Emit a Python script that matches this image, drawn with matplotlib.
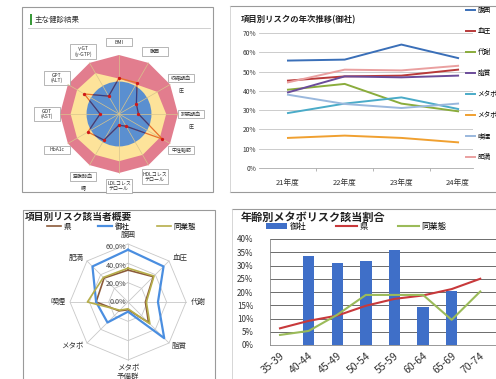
import numpy as np
import matplotlib
matplotlib.use('Agg')
import matplotlib.pyplot as plt
from matplotlib.patches import Rectangle, Polygon, Circle
from matplotlib.lines import Line2D
from matplotlib.ticker import FuncFormatter

plt.rcParams['font.family'] = ['Noto Sans CJK JP', 'DejaVu Sans']

W, H = 496, 379
fig = plt.figure(figsize=(W / 100, H / 100), dpi=100)


def rect(x0, y0, x1, y1):
    return [x0 / W, 1 - y1 / H, (x1 - x0) / W, (y1 - y0) / H]


# ---------------- data ----------------
# panel 1: main checkup results (normalised radar, 12 items, clockwise from top)
exam_items = ['BMI', '腹囲', '収縮期血', '拡張期血', '中性脂肪', 'HDLコレス\nテロール',
              'LDLコレス\nテロール', '空腹時血', 'HbA1c', 'GOT\n(AST)', 'GPT\n(ALT)',
              'γ-GT\n(γ-GTP)']
exam_suffix = ['', '', '圧', '圧', '', '', '', '糖', '', '', '', '']
exam_values = [0.61, 0.61, 0.34, 0.33, 0.85, 0.24, 0.19, 0.51, 0.61, 0.32, 0.68, 0.35]
normal_limit = 0.55
caution_limit = [0.60, 0.58, 0.75, 0.80, 0.80, 0.80, 0.80, 0.80, 0.82, 0.82, 0.82, 0.80]
danger_limit = 1.0

# panel 2: yearly trend (%)
years = ['21年度', '22年度', '23年度', '24年度']
trend_names = ['腹囲', '血圧', '代謝', '脂質', 'メタボ', 'メタボ予備群', '喫煙', '肥満']
trend_waist = [55.7, 56.2, 64.0, 57.0]
trend_bp = [45.3, 47.5, 47.9, 51.0]
trend_metab = [40.6, 43.6, 33.4, 29.4]
trend_lipid = [39.2, 47.5, 47.0, 47.9]
trend_mets = [28.5, 33.4, 36.6, 30.6]
trend_premets = [15.6, 16.8, 15.6, 13.3]
trend_smoke = [38.0, 33.2, 31.1, 33.4]
trend_obese = [44.4, 51.0, 50.6, 53.0]
trend_colors = ['#3a6fb8', '#b83a3a', '#8aac3c', '#6b4c9a', '#4aabc8', '#f0a030',
                '#9ab8dd', '#eaa0a0']

# panel 3: risk overview radar (%)
risk_items = ['腹囲', '血圧', '代謝', '脂質', 'メタボ\n予備群', 'メタボ', '喫煙', '肥満']
risk_pref = [33, 37, 18, 30, 8, 13, 33, 35]
risk_company = [54, 52, 31, 53, 10, 30, 33, 52]
risk_industry = [35, 38, 19, 32, 7, 12, 42, 36]
risk_ticks = [0, 20, 40, 60]

# panel 4: metabolic risk by age (%)
age_groups = ['35-39', '40-44', '45-49', '50-54', '55-59', '60-64', '65-69', '70-74']
meta_company = [0, 33.4, 30.9, 31.8, 36.0, 14.5, 20.4, 0]
meta_pref = [6.3, 9.1, 11.1, 14.8, 17.4, 18.7, 21.1, 25.0]
meta_industry = [3.8, 5.3, 11.4, 18.9, 18.9, 18.9, 9.5, 20.2]

# ---------------- decoration layer ----------------
deco = fig.add_axes([0, 0, 1, 1], zorder=-1)
deco.set_xlim(0, W)
deco.set_ylim(H, 0)
deco.axis('off')
frame_c = '#9a9a9a'
deco.add_patch(Rectangle((22, 7), 191, 185, fill=False, ec=frame_c, lw=0.8))
deco.add_patch(Rectangle((30, 14), 2.2, 11, fc='#3a9a3a', ec='none'))
deco.text(35, 20, '主な健診結果', fontsize=5.4, va='center', ha='left', color='#333')
deco.plot([28, 210], [27.5, 27.5], color='#c8c8c8', lw=0.6)
deco.plot([230, 496], [6, 6], color=frame_c, lw=0.8)
deco.plot([230, 496], [192, 192], color=frame_c, lw=0.8)
deco.plot([230, 230], [6, 192], color='#d0d0d0', lw=0.6)
deco.text(241, 20, '項目別リスクの年次推移(御社)', fontsize=6, weight='bold', va='center',
          ha='left', color='#222')
deco.add_patch(Rectangle((23, 210), 192, 190, fill=False, ec=frame_c, lw=0.8))
deco.text(25, 217, '項目別リスク該当者概要', fontsize=7, weight='bold', va='center',
          ha='left', color='#222')
deco.plot([232, 496], [209, 209], color=frame_c, lw=0.8)
deco.plot([232, 232], [209, 379], color='#d0d0d0', lw=0.6)
deco.text(241, 217, '年齢別メタボリスク該当割合', fontsize=8, weight='bold', va='center',
          ha='left', color='#222')

# ---------------- panel 1: radar ----------------
cx1, cy1, R1, L1 = 119, 114, 59, 85
ax1 = fig.add_axes(rect(cx1 - L1, cy1 - L1, cx1 + L1, cy1 + L1))
lim1 = L1 / R1
ax1.set_xlim(-lim1, lim1)
ax1.set_ylim(-lim1, lim1)
ax1.axis('off')
ax1.set_facecolor('none')
n1 = len(exam_items)
ang1 = np.deg2rad(90 - np.arange(n1) * 360 / n1)
c1, s1 = np.cos(ang1), np.sin(ang1)
ax1.add_patch(Polygon(np.c_[danger_limit * c1, danger_limit * s1], fc='#e27d8e', ec='none'))
cl = np.array(caution_limit)
ax1.add_patch(Polygon(np.c_[cl * c1, cl * s1], fc='#fde39a', ec='none'))
for c, s in zip(c1, s1):
    ax1.plot([0, c], [0, s], color='#d8c48c', lw=0.5)
circ = Circle((0, 0), normal_limit, fc='#5a8fd0', ec='none')
ax1.add_patch(circ)
ev = np.array(exam_values)
xs = np.r_[ev * c1, ev[0] * c1[0]]
ys = np.r_[ev * s1, ev[0] * s1[0]]
ax1.plot(xs, ys, color='#e8702a', lw=0.9)
inner, = ax1.plot(xs, ys, color='#2c3e8c', lw=0.9)
inner.set_clip_path(circ)
ax1.plot(ev * c1, ev * s1, 'o', ms=2.4, color='#d01818', mec='none')
lab_r = 1.22
for i, (name, suf) in enumerate(zip(exam_items, exam_suffix)):
    x, y = lab_r * c1[i], lab_r * s1[i]
    hh = 0.125 if '\n' in name else 0.075
    ax1.add_patch(Rectangle((x - 0.22, y - hh), 0.44, 2 * hh, fc='white', ec='#9a9a9a',
                            lw=0.5, clip_on=False))
    ax1.text(x, y, name, ha='center', va='center', fontsize=3.6, color='#333',
             linespacing=1.0)
    if suf:
        ax1.text(x, y - hh - 0.12, suf, ha='center', va='center', fontsize=3.6,
                 color='#333')

# ---------------- panel 2: trend lines ----------------
ax2 = fig.add_axes(rect(259, 33, 473, 168))
ax2.set_facecolor('none')
trend_series = [trend_waist, trend_bp, trend_metab, trend_lipid, trend_mets,
                trend_premets, trend_smoke, trend_obese]
xpos = np.arange(len(years))
handles = []
for name, vals, col in zip(trend_names, trend_series, trend_colors):
    h, = ax2.plot(xpos, vals, color=col, lw=1.4, label=name)
    handles.append(h)
ax2.set_ylim(0, 70)
ax2.set_xlim(-0.511, 3.263)
ax2.set_yticks(np.arange(0, 71, 10))
ax2.yaxis.set_major_formatter(FuncFormatter(lambda v, p: f'{v:.0f}%'))
ax2.set_xticks(xpos)
ax2.set_xticklabels(years)
ax2.set_xticks([0.5, 1.5, 2.5], minor=True)
ax2.grid(axis='y', color='#c4c4c4', lw=0.6)
ax2.set_axisbelow(True)
for sp in ['top', 'right', 'left']:
    ax2.spines[sp].set_visible(False)
ax2.spines['bottom'].set_color('#aaaaaa')
ax2.spines['bottom'].set_linewidth(0.6)
ax2.tick_params(axis='y', length=0, labelsize=4.8, pad=2, labelcolor='#333')
ax2.tick_params(axis='x', which='major', length=0, labelsize=5.5, pad=8, labelcolor='#333')
ax2.tick_params(axis='x', which='minor', length=2.5, width=0.5, color='#999')
ax2.legend(handles=handles, loc='upper left', bbox_to_anchor=(466 / W, 1 - 6 / H),
           bbox_transform=fig.transFigure, frameon=False, fontsize=4.8,
           handlelength=1.4, handletextpad=0.3, labelspacing=1.95, borderpad=0,
           borderaxespad=0)

# ---------------- panel 3: risk radar ----------------
cx3, cy3, R3, L3 = 128, 302, 58, 90
ax3 = fig.add_axes(rect(cx3 - L3, cy3 - L3, cx3 + L3, cy3 + L3))
lim3 = L3 / R3
ax3.set_xlim(-lim3, lim3)
ax3.set_ylim(-lim3, lim3)
ax3.axis('off')
ax3.set_facecolor('none')
n3 = len(risk_items)
ang3 = np.deg2rad(90 - np.arange(n3) * 360 / n3)
c3, s3 = np.cos(ang3), np.sin(ang3)
rmax = risk_ticks[-1]
for t in risk_ticks[1:]:
    f = t / rmax
    ax3.plot(np.r_[f * c3, f * c3[0]], np.r_[f * s3, f * s3[0]], color='#c8c8c8', lw=0.6)
for c, s in zip(c3, s3):
    ax3.plot([0, c], [0, s], color='#c8c8c8', lw=0.6)
for t in risk_ticks:
    ax3.text(-0.03, t / rmax * 0.94, f'{t:.1f}%', ha='right', va='center', fontsize=5.2,
             color='#444')


def radar3(vals, col, lw, label):
    v = np.array(vals) / rmax
    h, = ax3.plot(np.r_[v * c3, v[0] * c3[0]], np.r_[v * s3, v[0] * s3[0]], color=col,
                  lw=lw, label=label)
    return h


h3 = [radar3(risk_pref, '#8b5a3a', 1.2, '県'),
      radar3(risk_company, '#4a8ee0', 1.6, '御社'),
      radar3(risk_industry, '#b6ae4a', 1.2, '同業態')]
for i, name in enumerate(risk_items):
    x, y = 1.08 * c3[i], 1.08 * s3[i]
    ha = 'left' if c3[i] > 0.3 else ('right' if c3[i] < -0.3 else 'center')
    va = 'bottom' if s3[i] > 0.9 else ('top' if s3[i] < -0.9 else 'center')
    ax3.text(x, y, name, ha=ha, va=va, fontsize=5.4, color='#333', linespacing=1.1)
ax3.legend(handles=h3, loc='upper left', bbox_to_anchor=(47 / W, 1 - 223 / H),
           bbox_transform=fig.transFigure, frameon=False, fontsize=5.4, ncol=3,
           handlelength=1.9, handletextpad=0.3, columnspacing=3.6, borderpad=0,
           borderaxespad=0)

# ---------------- panel 4: bars + lines ----------------
ax4 = fig.add_axes(rect(270, 239, 496, 345))
ax4.set_facecolor('none')
xa = np.arange(len(age_groups))
b = ax4.bar(xa, meta_company, width=0.4, color='#3f6fc8', label='御社', zorder=2)
l1, = ax4.plot(xa, meta_pref, color='#c8393b', lw=1.5, label='県', zorder=3)
l2, = ax4.plot(xa, meta_industry, color='#9bbb59', lw=1.5, label='同業態', zorder=3)
ax4.set_ylim(0, 40)
ax4.set_xlim(-0.35, 7.55)
ax4.set_yticks(np.arange(0, 41, 5))
ax4.yaxis.set_major_formatter(FuncFormatter(lambda v, p: f'{v:.0f}%'))
ax4.grid(axis='y', color='#555555', lw=0.6, zorder=0)
ax4.set_axisbelow(True)
ax4.set_xticks(xa)
ax4.set_xticklabels(age_groups, rotation=40, ha='right', rotation_mode='anchor')
for sp in ['top', 'right']:
    ax4.spines[sp].set_visible(False)
for sp in ['left', 'bottom']:
    ax4.spines[sp].set_color('#888888')
    ax4.spines[sp].set_linewidth(0.6)
ax4.tick_params(axis='y', length=0, labelsize=5.8, pad=12, labelcolor='#333')
ax4.tick_params(axis='x', length=0, labelsize=7.5, pad=4, labelcolor='#333')
ax4.legend(handles=[b, l1, l2], loc='upper left', bbox_to_anchor=(266 / W, 1 - 222 / H),
           bbox_transform=fig.transFigure, frameon=False, fontsize=6, ncol=3,
           handlelength=2.5, handletextpad=0.3, columnspacing=3.6, borderpad=0,
           borderaxespad=0)

fig.savefig('out.png', dpi=100, facecolor='white')
